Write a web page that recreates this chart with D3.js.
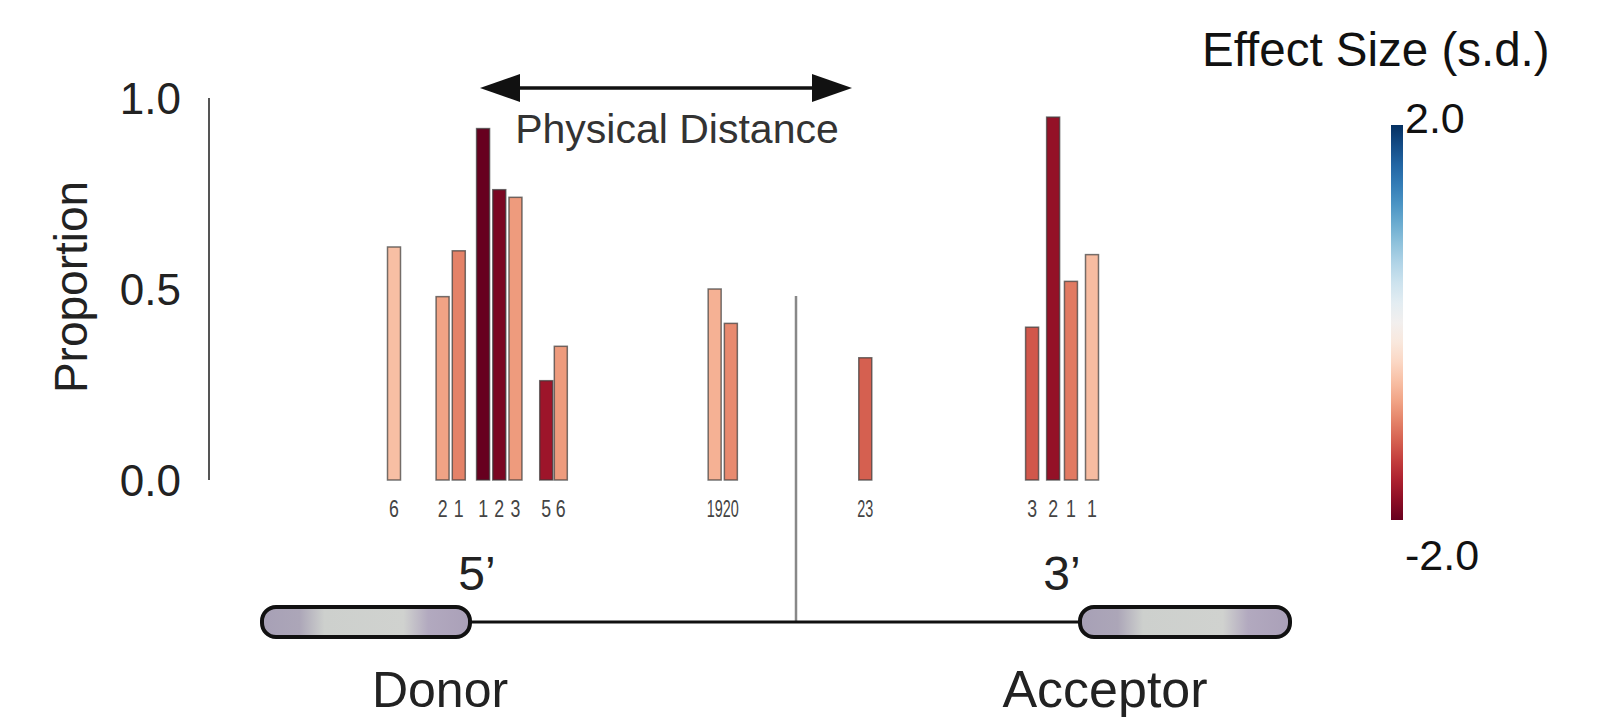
<!DOCTYPE html>
<html>
<head>
<meta charset="utf-8">
<script src="https://cdn.jsdelivr.net/npm/d3@7"></script>
<style>
  body { margin: 0; background: #fff; }
  text { font-family: "Liberation Sans", Arial, sans-serif; }
</style>
</head>
<body>
<div id="chart"></div>
<script>
// bars, left to right along the intron
let labels     = ['6', '2', '1', '1', '2', '3', '5', '6', '19', '20', '23', '3', '2', '1', '1'];
let slots      = [0, 3, 4, 5.5, 6.5, 7.5, 9.4, 10.3, 19.8, 20.8, 29.1, 39.4, 40.7, 41.8, 43.1];
let proportion = [0.61, 0.48, 0.60, 0.92, 0.76, 0.74, 0.26, 0.35, 0.50, 0.41, 0.32, 0.40, 0.95, 0.52, 0.59];
let effect     = [-0.6, -0.8, -1.0, -2.0, -1.9, -0.85, -1.7, -0.85, -0.7, -0.95, -1.2, -1.25, -1.75, -1.05, -0.62];

let yTicks = [0, 0.5, 1.0];
let effectTicks = [2.0, -2.0];

let W = 1612, H = 717;

let svg = d3.select('#chart')
  .append('svg')
    .attr('width', W)
    .attr('height', H);

let x = d3.scaleLinear().domain([0, 43.1]).range([394, 1092]),
    y = d3.scaleLinear().domain([0, 1]).range([480, 98]),
    color = function(v) { return d3.interpolateRdBu((v + 2) / 4); };
let barW = 13;

// y axis: plain line, no ticks
svg.append('line')
    .attr('x1', 209).attr('x2', 209)
    .attr('y1', y(1)).attr('y2', y(0))
    .attr('stroke', '#555')
    .attr('stroke-width', 2);

svg.selectAll('text.ytick')
    .data(yTicks)
  .enter().append('text')
    .attr('class', 'ytick')
    .attr('x', 181)
    .attr('y', function(d) { return y(d); })
    .attr('dy', '0.36em')
    .attr('text-anchor', 'end')
    .attr('font-size', 44)
    .attr('fill', '#222')
    .text(function(d) { return d.toFixed(1); });

svg.append('text')
    .attr('transform', 'translate(87,287) rotate(-90)')
    .attr('text-anchor', 'middle')
    .attr('font-size', 46)
    .attr('fill', '#222')
    .text('Proportion');

// bars
let idx = d3.range(labels.length);
svg.selectAll('rect.bar')
    .data(idx)
  .enter().append('rect')
    .attr('class', 'bar')
    .attr('x', function(i) { return x(slots[i]) - barW / 2; })
    .attr('y', function(i) { return y(proportion[i]); })
    .attr('width', barW)
    .attr('height', function(i) { return y(0) - y(proportion[i]); })
    .attr('fill', function(i) { return color(effect[i]); })
    .attr('stroke', '#3a3a3a')
    .attr('stroke-opacity', 0.7)
    .attr('stroke-width', 1.5);

// narrow position numbers under each bar (two-digit ones squeezed harder)
svg.selectAll('g.pos')
    .data(idx)
  .enter().append('g')
    .attr('class', 'pos')
    .attr('transform', function(i) {
      let sx = labels[i].length > 1 ? 0.6 : 0.74;
      return 'translate(' + x(slots[i]) + ',517) scale(' + sx + ',1)';
    })
  .append('text')
    .attr('text-anchor', 'middle')
    .attr('font-size', 24)
    .attr('fill', '#444')
    .text(function(i) { return labels[i]; });

// physical distance arrow
let ay = 88;
svg.append('line')
    .attr('x1', 505).attr('x2', 828)
    .attr('y1', ay).attr('y2', ay)
    .attr('stroke', '#111')
    .attr('stroke-width', 3.5);
svg.append('path')
    .attr('d', 'M480,' + ay + 'L520,' + (ay - 14) + 'L520,' + (ay + 14) + 'Z')
    .attr('fill', '#111');
svg.append('path')
    .attr('d', 'M852,' + ay + 'L812,' + (ay - 14) + 'L812,' + (ay + 14) + 'Z')
    .attr('fill', '#111');
svg.append('text')
    .attr('x', 677).attr('y', 143)
    .attr('text-anchor', 'middle')
    .attr('font-size', 41)
    .attr('fill', '#333')
    .text('Physical Distance');

// gene diagram
let geneY = 622;
svg.append('line')
    .attr('x1', 796).attr('x2', 796)
    .attr('y1', 296).attr('y2', geneY)
    .attr('stroke', '#888')
    .attr('stroke-width', 2.5);
svg.append('line')
    .attr('x1', 470).attr('x2', 1080)
    .attr('y1', geneY).attr('y2', geneY)
    .attr('stroke', '#111')
    .attr('stroke-width', 3);

let defs = svg.append('defs');
let eg = defs.append('linearGradient').attr('id', 'exon');
[[0, '#a7a0b6'], [0.18, '#aca6b8'], [0.3, '#cdd0cd'], [0.68, '#d0d2cf'], [0.8, '#b2a9bf'], [1, '#aaa0b8']]
  .forEach(function(s) {
    eg.append('stop').attr('offset', s[0]).attr('stop-color', s[1]);
  });

[[262, 470], [1080, 1290]].forEach(function(e) {
  svg.append('rect')
      .attr('x', e[0]).attr('y', geneY - 15)
      .attr('width', e[1] - e[0]).attr('height', 30)
      .attr('rx', 14)
      .attr('fill', 'url(#exon)')
      .attr('stroke', '#111')
      .attr('stroke-width', 4);
});

svg.append('text')
    .attr('x', 477).attr('y', 590)
    .attr('text-anchor', 'middle')
    .attr('font-size', 48)
    .attr('fill', '#222')
    .text('5\u2019');
svg.append('text')
    .attr('x', 1062).attr('y', 590)
    .attr('text-anchor', 'middle')
    .attr('font-size', 48)
    .attr('fill', '#222')
    .text('3\u2019');

svg.append('text')
    .attr('x', 440).attr('y', 707)
    .attr('text-anchor', 'middle')
    .attr('font-size', 50)
    .attr('fill', '#222')
    .text('Donor');
svg.append('text')
    .attr('x', 1105).attr('y', 707)
    .attr('text-anchor', 'middle')
    .attr('font-size', 52)
    .attr('fill', '#222')
    .text('Acceptor');

// colour bar
let cy = d3.scaleLinear().domain([-2, 2]).range([520, 125]);
let cg = defs.append('linearGradient')
    .attr('id', 'cbar')
    .attr('x1', 0).attr('y1', 1).attr('x2', 0).attr('y2', 0);
d3.range(0, 1.0001, 0.05).forEach(function(t) {
  cg.append('stop').attr('offset', t).attr('stop-color', d3.interpolateRdBu(t));
});
svg.append('rect')
    .attr('x', 1391).attr('y', cy(2))
    .attr('width', 12).attr('height', cy(-2) - cy(2))
    .attr('fill', 'url(#cbar)');

svg.selectAll('text.ctick')
    .data(effectTicks)
  .enter().append('text')
    .attr('class', 'ctick')
    .attr('x', 1405)
    .attr('y', function(d) { return d > 0 ? cy(d) + 8 : cy(d) + 50; })
    .attr('font-size', 43)
    .attr('fill', '#111')
    .text(function(d) { return d.toFixed(1); });

svg.append('text')
    .attr('x', 1202).attr('y', 66)
    .attr('font-size', 47.5)
    .attr('fill', '#111')
    .text('Effect Size (s.d.)');
</script>
</body>
</html>
